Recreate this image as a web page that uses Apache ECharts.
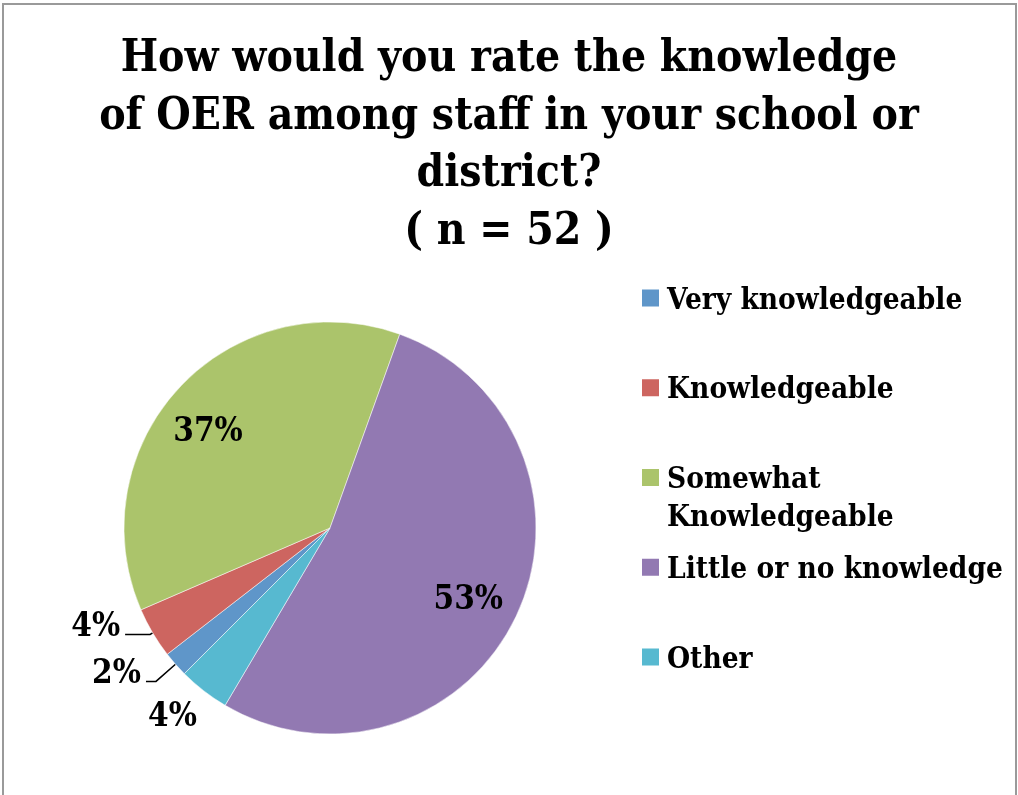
<!DOCTYPE html>
<html>
<head>
<meta charset="utf-8">
<script src="https://cdn.jsdelivr.net/npm/echarts@6/dist/echarts.min.js"></script>
<style>
html, body { margin: 0; padding: 0; background: #fff; }
#oerknowledge { width: 1018px; height: 795px; }
</style>
</head>
<body>
<div id="oerknowledge"></div>
<script>
// survey answers, percent of respondents (n = 52)
var categories = ['Very knowledgeable', 'Knowledgeable', 'Somewhat Knowledgeable', 'Little or no knowledge', 'Other'];
var percents = [2, 4, 37, 53, 4];
// leading blank line keeps the marker level with the first text line
var legendLabels = ['Very knowledgeable', 'Knowledgeable', '\nSomewhat\nKnowledgeable', 'Little or no knowledge', 'Other'];
var titleLines = ['How would you rate the knowledge', 'of OER among staff in your school or', 'district?', '( n = 52 )'];

var colors = ['#5F96C9', '#CD6560', '#ABC46B', '#9279B2', '#57B9D0'];
var FONT = '"DejaVu Serif Condensed", "DejaVu Serif", serif';
var CENTER = [330, 528];
var R = 206;

// small slices get outside labels with leader lines, big ones sit inside
var outside = {
    0: { length: 26, length2: 10, line: true, dist: 5, offset: [0, -7] },
    1: { length: 3, length2: 25, line: true, dist: 5, offset: [0, -7] },
    4: { length: 34, length2: 0, line: false, dist: -14, offset: [0, 0] }
};
var insideOffset = { 2: [-9, 11], 3: [-2, 6] };

var labelFont = { fontFamily: FONT, fontWeight: 'bold', fontSize: 33, color: '#000' };

var mainData = categories.map(function (name, i) {
    var o = outside[i];
    return {
        name: name,
        value: percents[i],
        itemStyle: { color: colors[i] },
        label: o ? { show: true, distanceToLabelLine: o.dist, offset: o.offset } : { show: false },
        labelLine: o ? { show: o.line, length: o.length, length2: o.length2 } : { show: false }
    };
});

var innerData = categories.map(function (name, i) {
    return {
        name: name,
        value: percents[i],
        label: { show: !outside[i], offset: insideOffset[i] || [0, 0] }
    };
});

// square marker in the top of a 20x23 icon box: text ends up 3px lower, 8px to the right
var MARKER = 'path://M0,0H17V17H0Z M19.99,22.99H20V23H19.99Z';
var LH = 37.5;
var legends = categories.map(function (name, i) {
    var markerY = 298 + i * 89.75;
    var lines = legendLabels[i].split('\n').length;
    return {
        orient: 'vertical',
        left: 642,
        top: markerY - (lines * LH / 2 - 3),
        padding: 0,
        itemWidth: 20,
        itemHeight: 23,
        icon: MARKER,
        itemStyle: { borderWidth: 0 },
        selectedMode: false,
        formatter: function () { return legendLabels[i]; },
        textStyle: { fontFamily: FONT, fontWeight: 'bold', fontSize: 29.5, lineHeight: LH, color: '#000' },
        data: [name]
    };
});

var chart = echarts.init(document.getElementById('oerknowledge'));

var option = {
    backgroundColor: '#fff',
    animation: false,
    title: {
        text: titleLines.join('\n'),
        left: 'center',
        top: 31,
        padding: 0,
        textStyle: { fontFamily: FONT, fontWeight: 'bold', fontSize: 44, lineHeight: 57.5, color: '#000' }
    },
    legend: legends,
    graphic: [{
        type: 'rect',
        shape: { x: 3, y: 4, width: 1013, height: 820 },
        style: { fill: null, stroke: '#9a9a9a', lineWidth: 2 },
        silent: true
    }],
    series: [{
        type: 'pie',
        center: CENTER,
        radius: R,
        startAngle: 225,
        clockwise: true,
        avoidLabelOverlap: false,
        emphasis: { disabled: true },
        itemStyle: { borderColor: '#fff', borderWidth: 0.5 },
        label: Object.assign({ position: 'outside', formatter: '{c}%' }, labelFont),
        labelLine: { lineStyle: { color: '#000', width: 1.5 } },
        data: mainData
    }, {
        type: 'pie',
        center: CENTER,
        radius: [98, R],
        startAngle: 225,
        clockwise: true,
        silent: true,
        avoidLabelOverlap: false,
        emphasis: { disabled: true },
        itemStyle: { color: 'transparent' },
        label: Object.assign({ position: 'inside', formatter: '{c}%' }, labelFont),
        labelLine: { show: false },
        data: innerData
    }]
};

chart.setOption(option);
window.addEventListener('resize', chart.resize);
</script>
</body>
</html>
